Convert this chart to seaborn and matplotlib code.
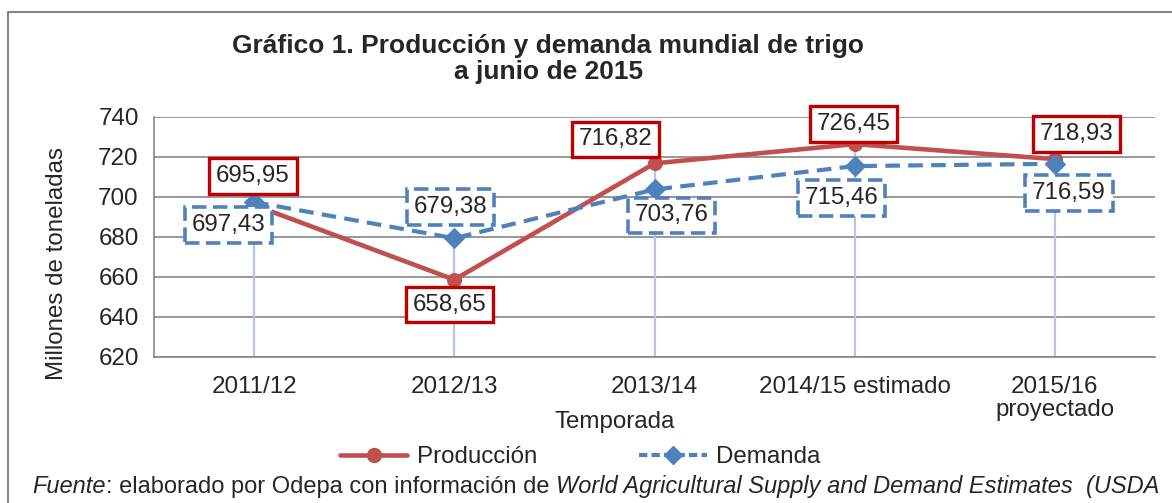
import numpy as np
import pandas as pd
import matplotlib
matplotlib.use("Agg")
import matplotlib.pyplot as plt
from matplotlib.lines import Line2D
import seaborn as sns

# Data
temporadas = ["2011/12", "2012/13", "2013/14", "2014/15 estimado", "2015/16\nproyectado"]
produccion = [695.95, 658.65, 716.82, 726.45, 718.93]
demanda = [697.43, 679.38, 703.76, 715.46, 716.59]
y_ticks = [620, 640, 660, 680, 700, 720, 740]

# label offsets in pixels from each point (x, y)
off_prod = [(-1, 29), (-5, -25), (-39, 24), (-1, 20), (22, 25)]
off_dem = [(-26, -23), (-4, 31), (17, -26), (-13, -32), (14, -29)]

red = "#C0504D"
blue = "#4F81BD"
box_red = "#C00000"
grid_col = "#868686"

sns.set_style("white")
plt.rcParams["font.family"] = ["Liberation Sans", "DejaVu Sans"]

fig = plt.figure(figsize=(11.72, 5.03), dpi=100)
ax = fig.add_axes([0.1314, 0.2903, 0.8541, 0.4771])

x = np.arange(len(temporadas))
df = pd.DataFrame({"x": x, "Producción": produccion, "Demanda": demanda})

# drop lines
ax.vlines(x, y_ticks[0], np.maximum(produccion, demanda), color="#B4C8E6", lw=1.6, zorder=1)

sns.lineplot(data=df, x="x", y="Producción", ax=ax, color=red, lw=3.3,
             marker="o", markersize=10, markeredgecolor=red, label="Producción", zorder=3)
sns.lineplot(data=df, x="x", y="Demanda", ax=ax, color=blue, lw=3, marker="D",
             markersize=10, markeredgecolor=blue, label="Demanda", zorder=4)
for line in ax.lines:
    if line.get_color() == blue:
        line.set_dashes([3.5, 2])

fs = 17.4
for i in range(len(x)):
    ax.annotate(f"{produccion[i]:.2f}".replace(".", ","), (x[i], produccion[i]),
                xytext=off_prod[i], textcoords="offset pixels", ha="center", va="center",
                fontsize=fs, zorder=6,
                bbox=dict(boxstyle="square,pad=0.28", fc="white", ec=box_red, lw=2.4))
    ax.annotate(f"{demanda[i]:.2f}".replace(".", ","), (x[i], demanda[i]),
                xytext=off_dem[i], textcoords="offset pixels", ha="center", va="center",
                fontsize=fs, zorder=6,
                bbox=dict(boxstyle="square,pad=0.28", fc="white", ec=blue, lw=2.6, ls=(0, (4, 1.8))))

ax.set_xlim(-0.5, len(x) - 0.5)
ax.set_ylim(y_ticks[0], y_ticks[-1])
ax.set_yticks(y_ticks)
ax.set_xticks(x)
ax.set_xticklabels(temporadas, fontsize=fs, linespacing=1.05)
ax.tick_params(axis="y", labelsize=fs, length=5, width=1.2, color=grid_col, pad=6)
ax.tick_params(axis="x", length=0, pad=14)
ax.grid(axis="y", color=grid_col, lw=1.2)
ax.set_axisbelow(True)
for side in ["top", "right"]:
    ax.spines[side].set_visible(False)
for side in ["left", "bottom"]:
    ax.spines[side].set_color(grid_col)
    ax.spines[side].set_linewidth(1.2)

ax.set_xlabel("Temporada", fontsize=fs)
ax.xaxis.set_label_coords(0.46, -0.225)
ax.set_ylabel("Millones de toneladas", fontsize=fs)
ax.yaxis.set_label_coords(-0.086, 0.39)

ax.legend_.remove()
handles = [Line2D([], [], color=red, lw=3.3, marker="o", markersize=10),
           Line2D([], [], color=blue, lw=3, marker="D", markersize=9, dashes=[2, 1])]
fig.legend(handles, ["Producción", "Demanda"], loc="center", bbox_to_anchor=(0.495, 0.091),
           ncol=2, frameon=False, fontsize=fs, handlelength=2.8, handletextpad=0.4,
           columnspacing=4.2)

fig.text(0.468, 0.882, "Gráfico 1. Producción y demanda mundial de trigo\na junio de 2015",
         ha="center", va="center", fontsize=19, fontweight="bold", linespacing=1.1)

# footer, built piece by piece
pieces = [("Fuente", "italic"), (": elaborado por Odepa con información de ", "normal"),
          ("World Agricultural Supply and Demand Estimates  (USDA", "italic")]
renderer = fig.canvas.get_renderer()
xpos = 32
for txt, style in pieces:
    t = fig.text(xpos / 1172, 1 - 493 / 503, txt, fontsize=17.0, style=style, va="baseline")
    xpos += t.get_window_extent(renderer).width

# outer frame
fig.add_artist(Line2D([8 / 1172, 8 / 1172], [0, 1 - 12 / 503], color="#868686", lw=1.5))
fig.add_artist(Line2D([8 / 1172, 1], [1 - 12 / 503, 1 - 12 / 503], color="#868686", lw=1.5))

fig.savefig("out.png", dpi=100)
